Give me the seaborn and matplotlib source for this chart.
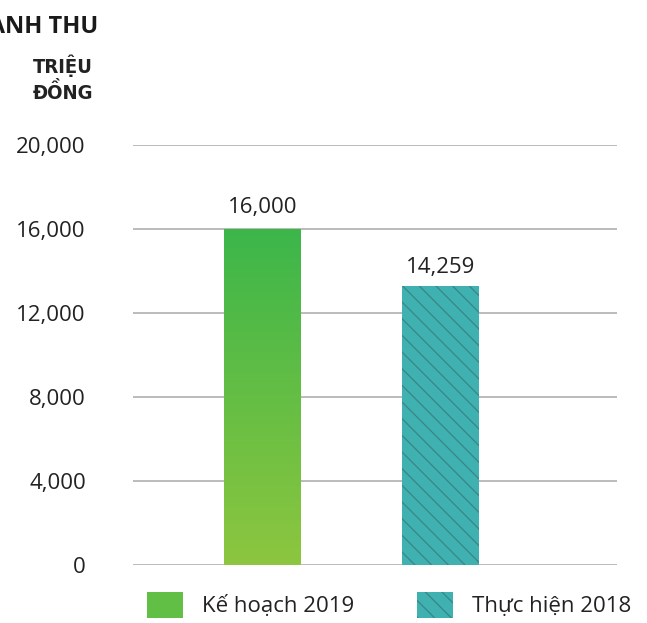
import numpy as np
import pandas as pd
import matplotlib
matplotlib.use("Agg")
import matplotlib.pyplot as plt
import seaborn as sns
from matplotlib.patches import Patch
from matplotlib.colors import LinearSegmentedColormap

# ---- data ----
categories = ["Kế hoạch 2019", "Thực hiện 2018"]
values = [16000, 13250]          # bar heights as drawn
value_labels = ["16,000", "14,259"]  # printed labels
yticks = [0, 4000, 8000, 12000, 16000, 20000]
ytick_labels = ["0", "4,000", "8,000", "12,000", "16,000", "20,000"]

sns.set_theme(style="white")
plt.rcParams["font.family"] = ["Open Sans", "DejaVu Sans"]
plt.rcParams["hatch.linewidth"] = 0.9

W, H = 647, 623
fig = plt.figure(figsize=(W / 100, H / 100), dpi=100)
ax = fig.add_axes([133 / W, (H - 564.7) / H, (617 - 133) / W, (564.7 - 144.7) / H])
ax.set_axisbelow(True)

df = pd.DataFrame({"cat": categories, "val": values})
green_top, green_bot = "#3cb64a", "#8dc63f"
teal = "#3fb1b0"
hatch_col = "#3a8587"
sns.barplot(data=df, x="cat", y="val", hue="cat", palette=[green_top, teal],
            width=0.433, ax=ax, legend=False, saturation=1, linewidth=0)
for p in ax.patches:
    p.set_zorder(3)

# gradient on first bar
cmap = LinearSegmentedColormap.from_list("g", [green_bot, green_top])
b0 = ax.patches[0]
x0, w0, h0 = b0.get_x(), b0.get_width(), b0.get_height()
grad = np.linspace(0, 1, 256).reshape(-1, 1)
im = ax.imshow(grad, extent=[x0, x0 + w0, 0, h0], origin="lower", cmap=cmap,
               aspect="auto", zorder=3)
im.set_clip_path(b0)
b0.set_facecolor("none")

# hatch on second bar
b1 = ax.patches[1]
b1.set_edgecolor(hatch_col)
b1.set_linewidth(0)
b1.set_hatch("\\\\")

ax.set_xlim(-0.728, 1.994)
ax.set_ylim(0, 20000)

# grid
ax.set_yticks(yticks)
ax.set_yticklabels(ytick_labels, fontsize=16, color="#222222")
ax.tick_params(axis="y", length=0, pad=34)
ax.set_xticks([])
ax.set_xlabel("")
ax.set_ylabel("")
for s in ax.spines.values():
    s.set_visible(False)
for yv in yticks:
    ax.axhline(yv, color="#a8a8a8", linewidth=1.1, zorder=1)

# value labels
offsets = [11.5, 9.5]
for p, lab, off in zip(ax.patches, value_labels, offsets):
    ax.annotate(lab, (p.get_x() + p.get_width() / 2, p.get_height()),
                xytext=(0, off), textcoords="offset points",
                ha="center", va="baseline", fontsize=16, color="#222222", zorder=5)

# titles
fig.text(98 / W, 1 - 33 / H, "DOANH THU", ha="right", va="baseline",
         fontsize=17, fontweight="bold", color="#1a1a1a")
for txt, yb in [("TRIỆU", 73), ("ĐỒNG", 99)]:
    fig.text(63 / W, 1 - yb / H, txt, ha="center", va="baseline",
             fontsize=14.5, fontweight="bold", fontstretch="condensed",
             color="#222222", family=["DejaVu Sans"])

# legend
handles = [Patch(facecolor="#62bf45", linewidth=0),
           Patch(facecolor=teal, edgecolor=hatch_col, linewidth=0, hatch="\\\\")]
leg = fig.legend(handles, categories, loc="center left",
                 bbox_to_anchor=(147 / W, 1 - 605 / H), ncol=2, frameon=False,
                 fontsize=16, handlelength=1.62, handleheight=1.4,
                 handletextpad=0.86, columnspacing=2.8, borderaxespad=0,
                 borderpad=0)
for t in leg.get_texts():
    t.set_color("#222222")

fig.savefig("out.png", dpi=100)
